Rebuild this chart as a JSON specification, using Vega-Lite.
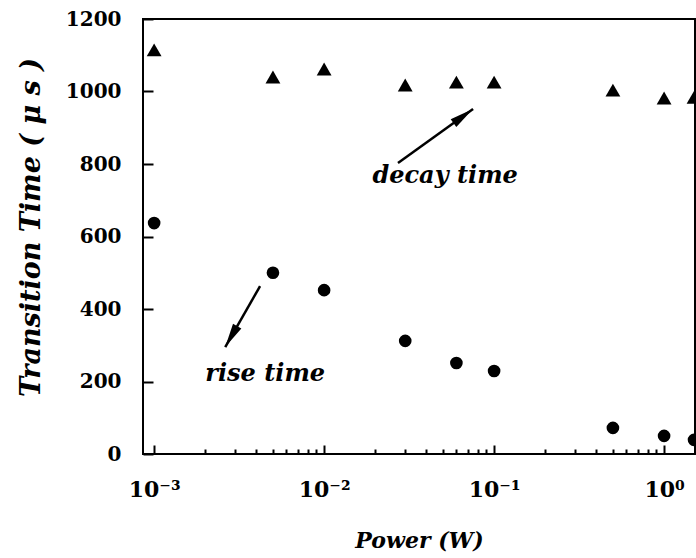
{
  "$schema": "https://vega.github.io/schema/vega-lite/v6.json",
  "width": 552,
  "height": 435,
  "autosize": "none",
  "padding": {"left": 143, "top": 19, "right": 1, "bottom": 104},
  "config": {
    "view": {"stroke": "black", "strokeWidth": 2},
    "axis": {
      "domain": false, "tickColor": "black", "tickWidth": 2,
      "labelFont": "DejaVu Serif", "labelFontWeight": "bold", "labelFontSize": 20, "labelColor": "black",
      "titleFont": "DejaVu Serif", "titleFontWeight": "bold", "titleFontStyle": "italic", "titleFontSize": 22, "titleColor": "black",
      "grid": false, "zindex": 1
    }
  },
  "datasets": {
    "pts": [
      {"power": 0.001, "time": 1115, "kind": "decay"},
      {"power": 0.005, "time": 1040, "kind": "decay"},
      {"power": 0.01, "time": 1062, "kind": "decay"},
      {"power": 0.03, "time": 1018, "kind": "decay"},
      {"power": 0.06, "time": 1026, "kind": "decay"},
      {"power": 0.1, "time": 1026, "kind": "decay"},
      {"power": 0.5, "time": 1004, "kind": "decay"},
      {"power": 1.0, "time": 982, "kind": "decay"},
      {"power": 1.5, "time": 984, "kind": "decay"},
      {"power": 0.001, "time": 637, "kind": "rise"},
      {"power": 0.005, "time": 500, "kind": "rise"},
      {"power": 0.01, "time": 452, "kind": "rise"},
      {"power": 0.03, "time": 312, "kind": "rise"},
      {"power": 0.06, "time": 251, "kind": "rise"},
      {"power": 0.1, "time": 229, "kind": "rise"},
      {"power": 0.5, "time": 72, "kind": "rise"},
      {"power": 1.0, "time": 50, "kind": "rise"},
      {"power": 1.5, "time": 39, "kind": "rise"}
    ]
  },
  "layer": [
    {
      "data": {"name": "pts"},
      "transform": [{"filter": "datum.kind == 'decay'"}],
      "mark": {"type": "point", "shape": "triangle-up", "filled": true, "color": "black", "opacity": 1, "size": 220},
      "encoding": {
        "x": {
          "field": "power", "type": "quantitative",
          "scale": {"type": "log", "domain": [0.00086, 1.52], "nice": false},
          "title": "Power (W)",
          "axis": {
            "values": [0.001,0.002,0.003,0.004,0.005,0.006,0.007,0.008,0.009,0.01,0.02,0.03,0.04,0.05,0.06,0.07,0.08,0.09,0.1,0.2,0.3,0.4,0.5,0.6,0.7,0.8,0.9,1],
            "labelExpr": "datum.value == 0.001 ? '10⁻³' : datum.value == 0.01 ? '10⁻²' : datum.value == 0.1 ? '10⁻¹' : datum.value == 1 ? '10⁰' : ''",
            "offset": -9,
            "tickSize": 9,
            "tickDash": {"condition": {"test": "datum.value == 0.001 || datum.value == 0.01 || datum.value == 0.1 || datum.value == 1", "value": [20, 0]}, "value": [5, 20]},
            "tickDashOffset": {"condition": {"test": "datum.value == 0.001 || datum.value == 0.01 || datum.value == 0.1 || datum.value == 1", "value": 0}, "value": -4},
            "labelPadding": 25,
            "labelFontSize": 22,
            "titlePadding": 30,
            "titleFontSize": 22
          }
        },
        "y": {
          "field": "time", "type": "quantitative",
          "scale": {"domain": [0, 1200], "nice": false},
          "title": "Transition Time ( μ s )",
          "axis": {
            "values": [0,100,200,300,400,500,600,700,800,900,1000,1100,1200],
            "labelExpr": "datum.value % 200 == 0 ? datum.label : ''",
            "format": "d",
            "offset": -10,
            "tickSize": 10,
            "tickDash": {"condition": {"test": "datum.value % 200 == 0", "value": [20, 0]}, "value": [6, 20]},
            "tickDashOffset": {"condition": {"test": "datum.value % 200 == 0", "value": 0}, "value": -4},
            "labelPadding": 22,
            "titlePadding": 20,
            "titleFontSize": 27,
            "titleY": 208
          }
        }
      }
    },
    {
      "data": {"name": "pts"},
      "transform": [{"filter": "datum.kind == 'rise'"}],
      "mark": {"type": "point", "shape": "circle", "filled": true, "color": "black", "opacity": 1, "size": 160},
      "encoding": {
        "x": {"field": "power", "type": "quantitative"},
        "y": {"field": "time", "type": "quantitative"}
      }
    },
    {
      "data": {"values": [{"x": 0.0272, "y": 803, "x2": 0.0752, "y2": 952}]},
      "mark": {"type": "rule", "color": "black", "strokeWidth": 2.5},
      "encoding": {
        "x": {"field": "x", "type": "quantitative"},
        "y": {"field": "y", "type": "quantitative"},
        "x2": {"field": "x2"},
        "y2": {"field": "y2"}
      }
    },
    {
      "data": {"values": [{"x": 0.0042, "y": 463, "x2": 0.00262, "y2": 295}]},
      "mark": {"type": "rule", "color": "black", "strokeWidth": 2.5},
      "encoding": {
        "x": {"field": "x", "type": "quantitative"},
        "y": {"field": "y", "type": "quantitative"},
        "x2": {"field": "x2"},
        "y2": {"field": "y2"}
      }
    },
    {
      "data": {"values": [{"x": 0.0658, "y": 932}]},
      "mark": {"type": "point", "shape": "M0,-1L0.4,1L-0.4,1Z", "filled": true, "color": "black", "opacity": 1, "size": 576, "angle": 54},
      "encoding": {
        "x": {"field": "x", "type": "quantitative"},
        "y": {"field": "y", "type": "quantitative"}
      }
    },
    {
      "data": {"values": [{"x": 0.00284, "y": 324}]},
      "mark": {"type": "point", "shape": "M0,-1L0.4,1L-0.4,1Z", "filled": true, "color": "black", "opacity": 1, "size": 576, "angle": 210},
      "encoding": {
        "x": {"field": "x", "type": "quantitative"},
        "y": {"field": "y", "type": "quantitative"}
      }
    },
    {
      "data": {"values": [{"x": 0.0515, "y": 767, "label": "decay time"}, {"x": 0.0045, "y": 221, "label": "rise time"}]},
      "mark": {"type": "text", "font": "DejaVu Serif", "fontWeight": "bold", "fontStyle": "italic", "fontSize": 24, "color": "black", "baseline": "middle", "align": "center"},
      "encoding": {
        "x": {"field": "x", "type": "quantitative"},
        "y": {"field": "y", "type": "quantitative"},
        "text": {"field": "label"}
      }
    }
  ]
}
